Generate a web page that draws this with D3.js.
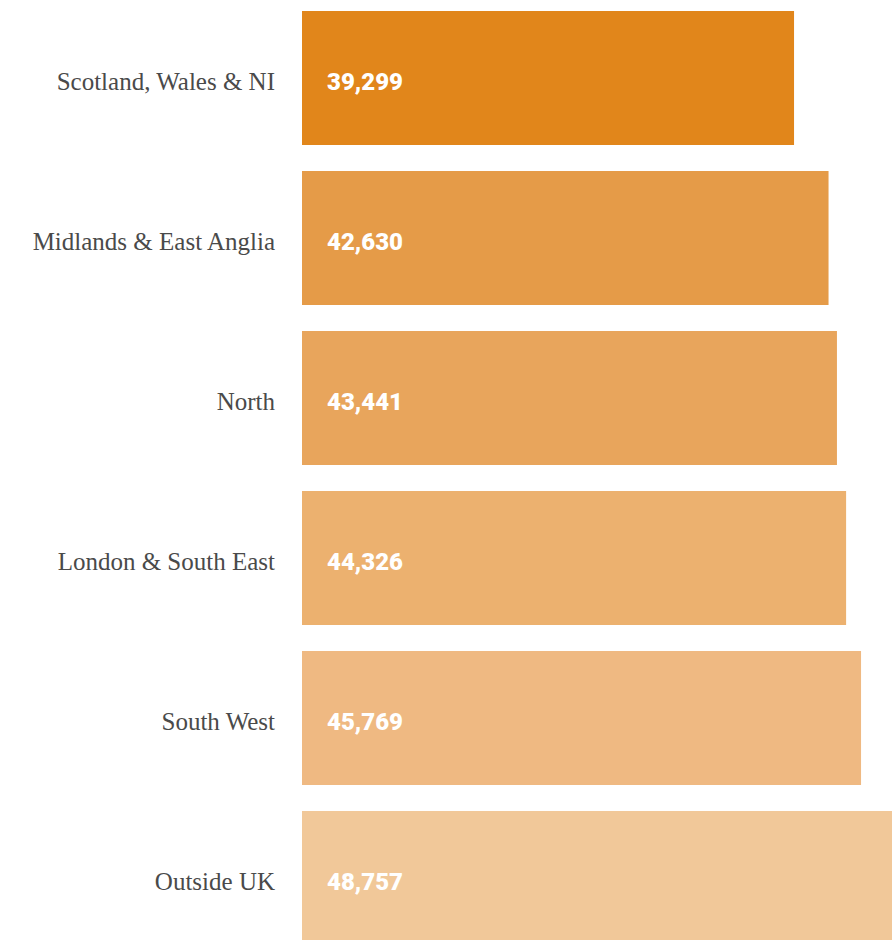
<!DOCTYPE html>
<html><head><meta charset="utf-8">
<script src="https://cdn.jsdelivr.net/npm/d3@7"></script>
<style>body{margin:0;background:#fff}svg{display:block}</style>
</head><body>
<script>
const categories = ["Scotland, Wales & NI","Midlands & East Anglia","North","London & South East","South West","Outside UK"];
const values = [39299, 42630, 43441, 44326, 45769, 48757];
const colors = ["#E1861B","#E59B48","#E8A55C","#ECB16F","#EFB982","#F1C899"];

const W = 896, H = 940;
const svg = d3.select("body").append("svg").attr("width", W).attr("height", H);
const x0 = 302;
const x = d3.scaleLinear().domain([0, d3.max(values)]).range([85, 590]);
const y = d3.scaleBand().domain(categories).range([-2, 958]).paddingInner(26/160).paddingOuter(13/160);
const data = categories.map((c,i)=>({c, v: values[i], col: colors[i]}));

svg.selectAll("rect").data(data).join("rect")
  .attr("x", x0).attr("y", d=>y(d.c))
  .attr("width", d=>x(d.v)).attr("height", y.bandwidth())
  .attr("fill", d=>d.col);

svg.selectAll("text.cat").data(data).join("text").attr("class","cat")
  .attr("x", 275).attr("y", d=>y(d.c)+y.bandwidth()/2+12)
  .attr("text-anchor","end")
  .style("font-family","'Liberation Serif', serif").style("font-size","25px").style("fill","#4a4a4a")
  .text(d=>d.c);

svg.selectAll("text.val").data(data).join("text").attr("class","val")
  .attr("x", x0+25).attr("y", d=>y(d.c)+y.bandwidth()/2+12)
  .style("font-family","Roboto, sans-serif").style("font-weight","900").style("font-size","24px").style("fill","#fff")
  .text(d=>d3.format(",")(d.v));
</script>
</body></html>
